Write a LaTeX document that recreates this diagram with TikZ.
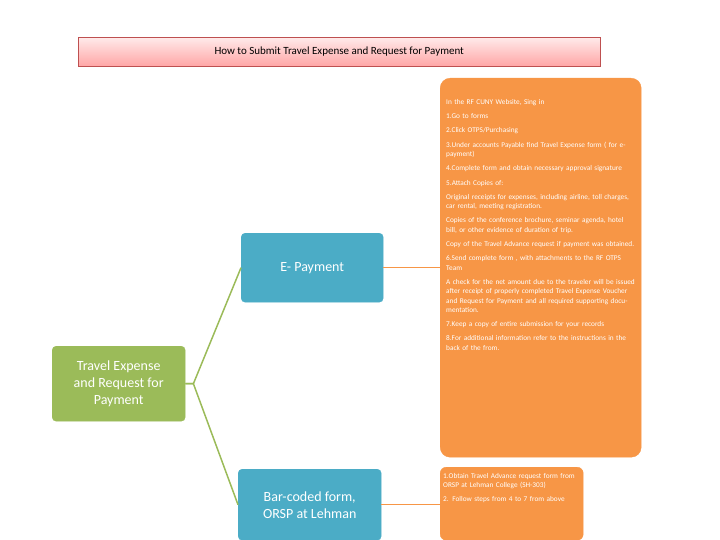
\documentclass[tikz,border=0pt]{standalone}
\usepackage{fontspec}
\setmainfont{Carlito}
\begin{document}
\begin{tikzpicture}[x=1pt,y=-1pt,
  blue box/.style={fill=blue!0!cyan!40!teal!0, fill={rgb,255:red,75;green,172;blue,198}, draw={rgb,255:red,75;green,172;blue,198}, rounded corners=4pt, text=white, align=center, font=\fontsize{14}{17}\selectfont, inner sep=3pt},
  green box/.style={fill={rgb,255:red,155;green,187;blue,89}, draw={rgb,255:red,155;green,187;blue,89}, rounded corners=4pt, text=white, align=center, font=\fontsize{14}{17}\selectfont},
  orange box/.style={fill={rgb,255:red,247;green,150;blue,70}, draw={rgb,255:red,247;green,150;blue,70}, rounded corners=10pt},
  otext/.style={text=white, text width=190pt, align=left, inner sep=0pt, font=\fontsize{7.3}{9.3}\selectfont},
  gline/.style={draw={rgb,255:red,155;green,187;blue,89}, line width=1.5pt},
  oline/.style={draw={rgb,255:red,247;green,150;blue,70}, line width=1.5pt}]
\useasboundingbox (0,0) rectangle (720,540);
\node[draw={rgb,255:red,190;green,80;blue,80}, top color=red!8, bottom color=red!35, minimum width=522pt, minimum height=29pt, anchor=north west, font=\fontsize{11}{13}\selectfont] (title) at (78,37) {How to Submit Travel Expense and Request for Payment};
\node[orange box, minimum width=201pt, minimum height=379pt, anchor=north west] (big) at (440,78) {};
\node[otext, anchor=north west] (bigt) at (446,99) {%
In the RF CUNY Website, Sing in\par\vskip 5pt
1.Go to forms\par\vskip 5pt
2.Click OTPS/Purchasing\par\vskip 5pt
3.Under accounts Payable find Travel Expense form ( for e-payment)\par\vskip 5pt
4.Complete form and obtain necessary approval signature\par\vskip 5pt
5.Attach Copies of:\par\vskip 5pt
Original receipts for expenses, including airline, toll charges, car rental, meeting registration.\par\vskip 5pt
Copies of the conference brochure, seminar agenda, hotel bill, or other evidence of duration of trip.\par\vskip 5pt
Copy of the Travel Advance request if payment was obtained.\par\vskip 5pt
6.Send complete form , with attachments to the RF OTPS Team\par\vskip 5pt
A check for the net amount due to the traveler will be issued after receipt of properly completed Travel Expense Voucher and Request for Payment and all required supporting documentation.\par\vskip 5pt
7.Keep a copy of entire submission for your records\par\vskip 5pt
8.For additional information refer to the instructions in the back of the from.};
\node[orange box, rounded corners=6pt, minimum width=143pt, minimum height=73pt, anchor=north west] (small) at (440,467) {};
\node[otext, text width=138pt, anchor=north west] (smallt) at (443,473) {%
1.Obtain Travel Advance request form from ORSP at Lehman College (SH-303)\par\vskip 5pt
2. Follow steps from 4 to 7 from above};
\node[blue box, minimum width=142pt, minimum height=69pt, anchor=north west] (epay) at (241,233) {E- Payment};
\node[blue box, minimum width=143pt, minimum height=71pt, anchor=north west] (bar) at (238,469) {Bar-coded form,\\ORSP at Lehman};
\node[green box, minimum width=133pt, minimum height=75pt, anchor=north west] (travel) at (52,346) {Travel Expense\\and Request for\\Payment};
\draw[gline] (travel.east) -- ++(8,0) -- (epay.west);
\draw[gline] (travel.east) -- ++(8,0) -- (bar.west);
\draw[oline] (epay.east) -- (epay.east -| big.west);
\draw[oline] (bar.east) -- (bar.east -| small.west);
\end{tikzpicture}
\end{document}
